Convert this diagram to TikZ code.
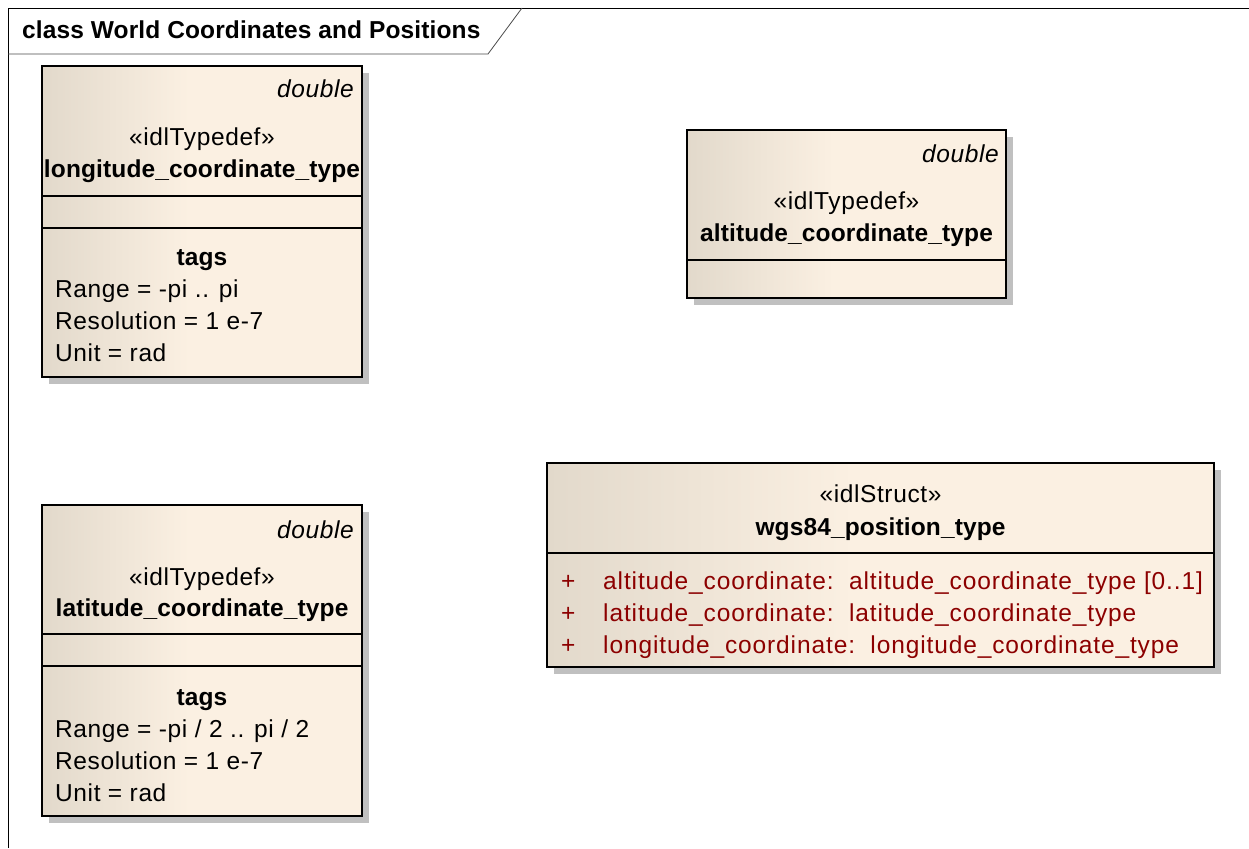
\documentclass[tikz,border=0pt]{standalone}
\usepackage{fontspec}
\setmainfont{Liberation Sans}[LetterSpace=2.5, BoldFeatures={LetterSpace=0.5}]
\usetikzlibrary{shadows}
\definecolor{umltan}{RGB}{226,217,203}
\definecolor{umlcream}{RGB}{251,240,226}
\definecolor{attrred}{RGB}{140,0,0}
\definecolor{shadowgray}{RGB}{192,192,192}
\pgfdeclarehorizontalshading{umlfill}{100bp}{color(0bp)=(umltan); color(25bp)=(umltan); color(48bp)=(umlcream); color(100bp)=(umlcream)}
\tikzset{
  classbox/.style={draw=black, line width=2pt, shading=umlfill, shading angle=0,
    inner sep=0pt, drop shadow={shadow xshift=7pt, shadow yshift=-7pt, fill=shadowgray, opacity=1}},
  divider/.style={draw=black, line width=2pt},
  txt/.style={inner sep=0pt, font=\fontsize{24.5}{29}\selectfont},
  attr/.style={txt, text=attrred, font=\fontsize{24.5}{29}\selectfont\addfontfeatures{LetterSpace=3.6}},
  frameline/.style={draw=black, line width=0.8pt}
}
\begin{document}
\begin{tikzpicture}[x=1pt, y=-1pt]
\useasboundingbox (0,0) rectangle (1249,848);
\fill[white] (0,0) rectangle (1249,848);
% frame
\draw[frameline] (8,848) -- (8,8) -- (1249,8);
\draw[frameline, draw=black!70] (8,54) -- (488,54) -- (522,8);
\node[txt, anchor=base west, font=\fontsize{24.5}{29}\selectfont\bfseries] (title) at (22,39) {class World Coordinates and Positions};

% longitude box
\node[classbox, minimum width=320pt, minimum height=311pt] (lon) at (202,221.5) {};
\draw[divider] (42,196) -- (362,196);
\draw[divider] (42,228) -- (362,228);
\node[txt, anchor=base east] (lonst) at (354,98) {\itshape double};
\node[txt, anchor=base] (lonster) at (202,145) {«idlTypedef»};
\node[txt, anchor=base] (lonname) at (202,177) {\bfseries longitude\_coordinate\_type};
\node[txt, anchor=base] (lontags) at (202,265) {\bfseries tags};
\node[txt, anchor=base west] (lonr) at (55,297) {Range = -pi .. pi};
\node[txt, anchor=base west] (lonres) at (55,329) {Resolution = 1 e-7};
\node[txt, anchor=base west] (lonu) at (55,361) {Unit = rad};

% altitude box
\node[classbox, minimum width=319pt, minimum height=168pt] (alt) at (846.5,214) {};
\draw[divider] (687,260) -- (1006,260);
\node[txt, anchor=base east] (altst) at (999,162) {\itshape double};
\node[txt, anchor=base] (altster) at (846.5,209) {«idlTypedef»};
\node[txt, anchor=base] (altname) at (846.5,241) {\bfseries altitude\_coordinate\_type};

% latitude box
\node[classbox, minimum width=320pt, minimum height=311pt] (lat) at (202,660) {};
\draw[divider] (42,634) -- (362,634);
\draw[divider] (42,666) -- (362,666);
\node[txt, anchor=base east] (latst) at (354,538) {\itshape double};
\node[txt, anchor=base] (latster) at (202,585) {«idlTypedef»};
\node[txt, anchor=base] (latname) at (202,616) {\bfseries latitude\_coordinate\_type};
\node[txt, anchor=base] (lattags) at (202,705) {\bfseries tags};
\node[txt, anchor=base west] (latr) at (55,737) {Range = -pi / 2 .. pi / 2};
\node[txt, anchor=base west] (latres) at (55,769) {Resolution = 1 e-7};
\node[txt, anchor=base west] (latu) at (55,801) {Unit = rad};

% wgs84 box
\node[classbox, minimum width=667pt, minimum height=204pt] (wgs) at (880.5,565) {};
\draw[divider] (547,553) -- (1214,553);
\node[txt, anchor=base] (wgsster) at (880.5,502) {«idlStruct»};
\node[txt, anchor=base] (wgsname) at (880.5,535) {\bfseries wgs84\_position\_type};
\node[attr, anchor=base west] (p1) at (561,589) {+};
\node[attr, anchor=base west] (a1) at (603,589) {altitude\_coordinate:\ \ altitude\_coordinate\_type [0..1]};
\node[attr, anchor=base west] (p2) at (561,621) {+};
\node[attr, anchor=base west] (a2) at (603,621) {latitude\_coordinate:\ \ latitude\_coordinate\_type};
\node[attr, anchor=base west] (p3) at (561,653) {+};
\node[attr, anchor=base west] (a3) at (603,653) {longitude\_coordinate:\ \ longitude\_coordinate\_type};
\end{tikzpicture}
\end{document}
